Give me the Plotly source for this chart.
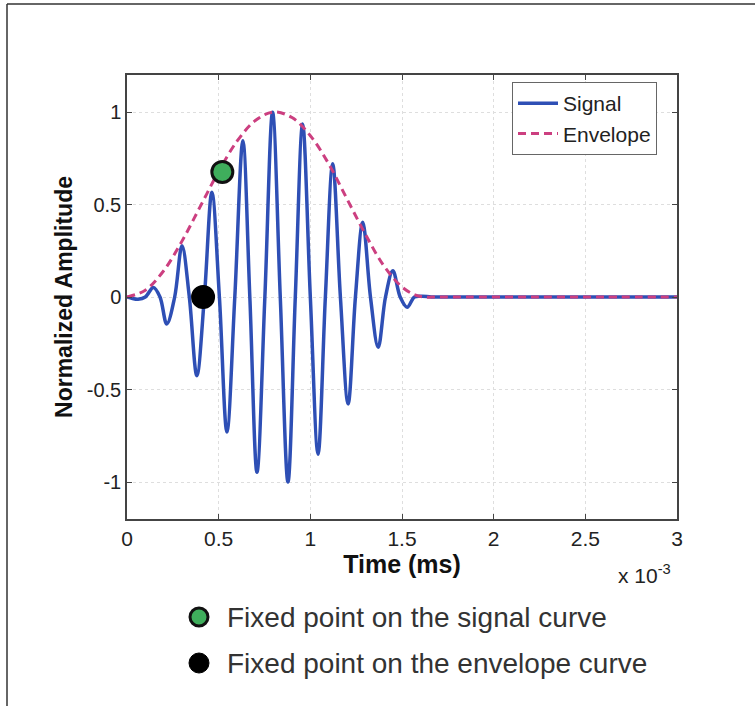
import plotly.graph_objects as go

# Signal (time in units of 1e-3 s) read from extrema / zero crossings
sig_t = [0, 0.03, 0.06, 0.10, 0.144, 0.18, 0.217, 0.26, 0.30, 0.34, 0.381, 0.422, 0.463, 0.504,
         0.545, 0.588, 0.632, 0.67, 0.709, 0.752, 0.794, 0.836, 0.878, 0.918, 0.958, 1.0,
         1.042, 1.082, 1.122, 1.164, 1.206, 1.246, 1.286, 1.328, 1.37, 1.41, 1.45, 1.49,
         1.528, 1.568, 1.61, 1.66, 1.75, 1.9, 2.2, 2.6, 3.0]
sig_y = [0, -0.008, -0.012, 0, 0.052, 0, -0.146, 0, 0.277, 0, -0.425, 0, 0.566, 0,
         -0.73, 0, 0.845, 0, -0.947, 0, 0.998, 0, -1.0, 0, 0.935, 0,
         -0.85, 0, 0.72, 0, -0.578, 0, 0.404, 0, -0.272, 0, 0.142, 0,
         -0.056, 0, 0.004, 0, 0, 0, 0, 0, 0]

env_t = [0, 0.1, 0.2, 0.3, 0.4, 0.5, 0.6, 0.7, 0.8, 0.9, 1.0, 1.1, 1.2, 1.3, 1.4, 1.5, 1.57, 1.62,
         1.7, 1.85, 2.2, 2.6, 3.0]
env_y = [0, 0.037, 0.142, 0.302, 0.49, 0.679, 0.842, 0.954, 1.0, 0.97, 0.872, 0.72, 0.53, 0.34,
         0.17, 0.054, 0.012, 0, 0, 0, 0, 0, 0]

green_pt = (0.52, 0.676)
black_pt = (0.415, 0.0)

x_ticks = [0, 0.5, 1, 1.5, 2, 2.5, 3]
x_tick_text = ["0", "0.5", "1", "1.5", "2", "2.5", "3"]
y_ticks = [-1, -0.5, 0, 0.5, 1]
y_tick_text = ["-1", "-0.5", "0", "0.5", "1"]

FONT = "Liberation Sans, Arial, sans-serif"

fig = go.Figure()
fig.add_trace(go.Scatter(x=sig_t, y=sig_y, mode="lines", name="Signal",
                         line=dict(color="#2e4fb5", width=3.5, shape="spline", smoothing=1.0)))
fig.add_trace(go.Scatter(x=env_t, y=env_y, mode="lines", name="Envelope",
                         line=dict(color="#cc3f80", width=3, dash="8px,5px", shape="spline")))
fig.add_trace(go.Scatter(x=[green_pt[0]], y=[green_pt[1]], mode="markers", showlegend=False,
                         marker=dict(size=21, color="#3fae5c", line=dict(color="#111", width=3))))
fig.add_trace(go.Scatter(x=[black_pt[0]], y=[black_pt[1]], mode="markers", showlegend=False,
                         marker=dict(size=22, color="#000", line=dict(color="#000", width=2))))

L, R, T, B = 127, 78, 75, 187
W, H = 755, 706
pw, ph = W - L - R, H - T - B

def px(xp):
    return (xp - L) / pw

def py(yp):
    return (H - B - yp) / ph

axis_common = dict(showline=True, linecolor="#444", linewidth=1.5, mirror="ticks",
                   ticks="inside", ticklen=5, tickcolor="#444",
                   showgrid=True, gridcolor="#dedede", griddash="dot", gridwidth=1,
                   zeroline=False)

fig.update_xaxes(range=[0, 3], tickvals=x_ticks, ticktext=x_tick_text,
                 tickfont=dict(family=FONT, size=21, color="#222"),
                 title=dict(text="<b>Time (ms)</b>", font=dict(family=FONT, size=25, color="#111"), standoff=2),
                 **axis_common)
fig.update_yaxes(range=[-1.2, 1.2], tickvals=y_ticks, ticktext=y_tick_text,
                 tickfont=dict(family=FONT, size=20, color="#222"),
                 title=dict(text="<b>Normalized Amplitude</b>", font=dict(family=FONT, size=23, color="#111"), standoff=8),
                 **axis_common)

shapes = [
    dict(type="line", xref="paper", yref="paper", x0=px(7), x1=px(760), y0=py(4), y1=py(4),
         line=dict(color="#333", width=1.5)),
    dict(type="line", xref="paper", yref="paper", x0=px(7), x1=px(7), y0=py(4), y1=py(710),
         line=dict(color="#333", width=1.5)),
    dict(type="circle", xref="paper", yref="paper", xsizemode="pixel", ysizemode="pixel",
         xanchor=px(199), yanchor=py(617), x0=-9, x1=9, y0=-9, y1=9,
         fillcolor="#3fae5c", line=dict(color="#111", width=3)),
    dict(type="circle", xref="paper", yref="paper", xsizemode="pixel", ysizemode="pixel",
         xanchor=px(199), yanchor=py(663), x0=-10, x1=10, y0=-10, y1=10,
         fillcolor="#000", line=dict(color="#000", width=1)),
]

annotations = [
    dict(text="x 10<sup>-3</sup>", xref="paper", yref="paper", x=px(616), y=py(574),
         xanchor="left", yanchor="middle", showarrow=False,
         font=dict(family=FONT, size=21, color="#222")),
    dict(text="Fixed point on the signal curve", xref="paper", yref="paper", x=px(225), y=py(617),
         xanchor="left", yanchor="middle", showarrow=False,
         font=dict(family=FONT, size=28, color="#333")),
    dict(text="Fixed point on the envelope curve", xref="paper", yref="paper", x=px(225), y=py(663),
         xanchor="left", yanchor="middle", showarrow=False,
         font=dict(family=FONT, size=28, color="#333")),
]

fig.update_layout(
    width=W, height=H, margin=dict(l=L, r=R, t=T, b=B),
    paper_bgcolor="white", plot_bgcolor="white",
    shapes=shapes, annotations=annotations,
    legend=dict(x=px(512), y=py(82), xanchor="left", yanchor="top",
                bgcolor="white", bordercolor="#666", borderwidth=1,
                font=dict(family=FONT, size=21, color="#222"),
                tracegroupgap=0, itemwidth=40),
)

fig.write_html("out.html")
